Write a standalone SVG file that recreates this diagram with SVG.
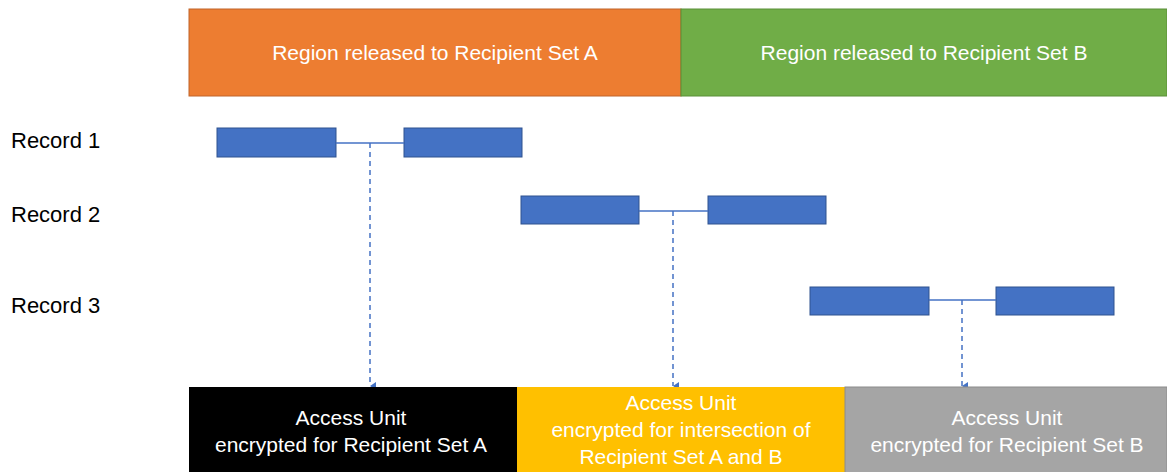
<svg xmlns="http://www.w3.org/2000/svg" width="1167" height="472" viewBox="0 0 1167 472">
<style>
.lbl{font-family:"Liberation Sans",Arial,sans-serif;font-size:22px;fill:#000}
.wt{font-family:"Liberation Sans",Arial,sans-serif;font-size:21px;fill:#fff;text-anchor:middle}
.rec{fill:#4472C4;stroke:#2F528F;stroke-width:1}
.link{stroke:#4472C4;stroke-width:1.5;fill:none}
.dash{stroke:#4472C4;stroke-width:1.5;stroke-dasharray:5 4;fill:none}
</style>
<defs>
<marker id="ah" markerWidth="8" markerHeight="8" refX="4" refY="6" orient="auto" markerUnits="userSpaceOnUse" viewBox="0 0 8 8">
<path d="M0,0 L8,0 L4,6 Z" fill="#4472C4"/>
</marker>
</defs>
<rect width="1167" height="472" fill="#fff"/>
<g id="bannerA"><rect x="189" y="9" width="492" height="87" fill="#ED7D31" stroke="#C0642A" stroke-width="1"/><text class="wt" x="435" y="60">Region released to Recipient Set A</text></g>
<g id="bannerB"><rect x="681" y="9" width="486" height="87" fill="#70AD47" stroke="#5A8F38" stroke-width="1"/><text class="wt" x="924" y="60">Region released to Recipient Set B</text></g>
<g id="label1"><text class="lbl" x="11" y="148">Record 1</text></g>
<g id="label2"><text class="lbl" x="11" y="222">Record 2</text></g>
<g id="label3"><text class="lbl" x="11" y="313">Record 3</text></g>
<g id="record1"><rect class="rec" x="217" y="128" width="119" height="29"/><rect class="rec" x="404" y="128" width="118" height="29"/></g>
<g id="record2"><rect class="rec" x="521" y="196" width="118" height="28"/><rect class="rec" x="708" y="196" width="118" height="28"/></g>
<g id="record3"><rect class="rec" x="810" y="287" width="119" height="28"/><rect class="rec" x="996" y="287" width="118" height="28"/></g>
<g id="connectors">
<line class="link" x1="336" y1="143" x2="404" y2="143"/>
<line class="dash" x1="370" y1="143" x2="370" y2="386" marker-end="url(#ah)"/>
<line class="link" x1="639" y1="211" x2="708" y2="211"/>
<line class="dash" x1="673" y1="211" x2="673" y2="386" marker-end="url(#ah)"/>
<line class="link" x1="929" y1="300" x2="996" y2="300"/>
<line class="dash" x1="962" y1="300" x2="962" y2="386" marker-end="url(#ah)"/>
</g>
<g id="unitA"><rect x="189" y="387" width="328" height="86" fill="#000"/><text class="wt" x="351" y="425">Access Unit</text><text class="wt" x="351" y="452">encrypted for Recipient Set A</text></g>
<g id="unitAB"><rect x="517" y="387" width="328" height="86" fill="#FFC000"/><text class="wt" x="681" y="410">Access Unit</text><text class="wt" x="681" y="437">encrypted for intersection of</text><text class="wt" x="681" y="464">Recipient Set A and B</text></g>
<g id="unitB"><rect x="845" y="387" width="322" height="86" fill="#A5A5A5" stroke="#8C8C8C" stroke-width="1"/><text class="wt" x="1007" y="425">Access Unit</text><text class="wt" x="1007" y="452">encrypted for Recipient Set B</text></g>
</svg>
